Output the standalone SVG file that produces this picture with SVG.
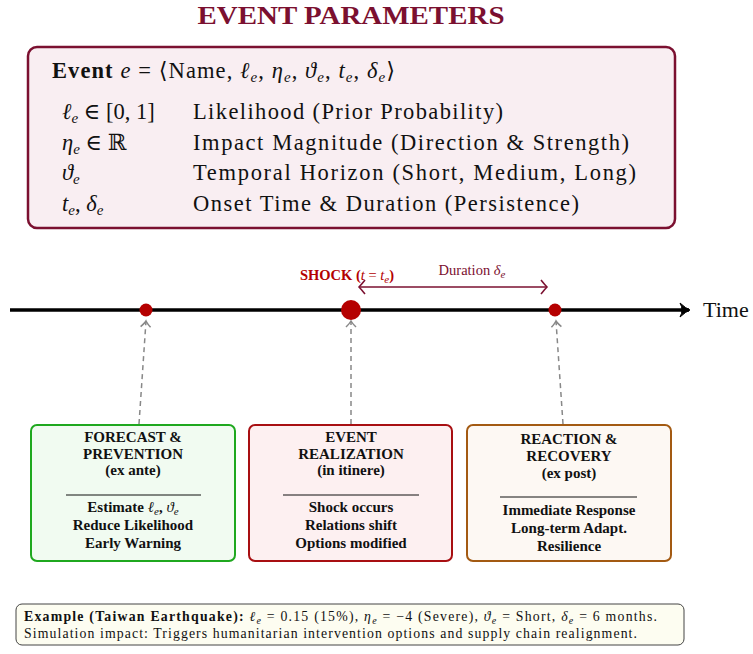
<svg xmlns="http://www.w3.org/2000/svg" width="753" height="654" viewBox="0 0 753 654">
<style>
text{font-family:"Liberation Serif","DejaVu Serif",serif;fill:#111}
.title{font-size:26px;font-weight:bold;fill:#7b1030}
.big{font-size:22.5px}
.i{font-style:italic}
.sub{font-size:15px;font-style:italic}
.bx{font-size:15px;font-weight:bold;text-anchor:middle}
.bs{font-size:11px;font-style:italic;font-weight:normal}
.sm{font-size:14.5px}
.ex{font-size:13.8px}
</style>
<defs>
<marker id="ah" markerUnits="userSpaceOnUse" markerWidth="16" markerHeight="16" refX="0" refY="0" viewBox="-10 -8 14 16" orient="auto" overflow="visible">
<path d="M-6,-5 Q-2,-1 0,0 Q-2,1 -6,5" fill="none" stroke="#888" stroke-width="1.5"/>
</marker>
<marker id="dh" markerUnits="userSpaceOnUse" markerWidth="16" markerHeight="16" refX="0" refY="0" viewBox="-10 -8 14 16" orient="auto-start-reverse" overflow="visible">
<path d="M-5,-7 Q-1,-2 1,0 Q-1,2 -5,7" fill="none" stroke="#7b1030" stroke-width="1.6"/>
</marker>
<marker id="th" markerUnits="userSpaceOnUse" markerWidth="20" markerHeight="20" refX="0" refY="0" viewBox="-12 -10 16 20" orient="auto" overflow="visible">
<path d="M-9,-7 Q-3,-1.5 1,0 Q-3,1.5 -9,7 Q-5,0 -9,-7 Z" fill="#000" stroke="#000" stroke-width="1"/>
</marker>
</defs>

<text class="title" x="351" y="24" text-anchor="middle" textLength="307" lengthAdjust="spacingAndGlyphs">EVENT PARAMETERS</text>

<g id="params">
<rect x="28" y="47" width="647" height="181" rx="9" fill="#f9eef2" stroke="#7b1030" stroke-width="2.5"/>
<text class="big" x="52" y="78" textLength="343"><tspan font-weight="bold">Event</tspan> <tspan class="i">e</tspan> = ⟨Name, <tspan class="i">ℓ</tspan><tspan class="sub" dy="4">e</tspan><tspan dy="-4">, </tspan><tspan class="i">η</tspan><tspan class="sub" dy="4">e</tspan><tspan dy="-4">, </tspan><tspan class="i">ϑ</tspan><tspan class="sub" dy="4">e</tspan><tspan dy="-4">, </tspan><tspan class="i">t</tspan><tspan class="sub" dy="4">e</tspan><tspan dy="-4">, </tspan><tspan class="i">δ</tspan><tspan class="sub" dy="4">e</tspan><tspan dy="-4">⟩</tspan></text>
<text class="big" x="62" y="119"><tspan class="i">ℓ</tspan><tspan class="sub" dy="4">e</tspan><tspan dy="-4"> ∈ [0, 1]</tspan></text>
<text class="big" x="62" y="150"><tspan class="i">η</tspan><tspan class="sub" dy="4">e</tspan><tspan dy="-4"> ∈ ℝ</tspan></text>
<text class="big" x="62" y="180"><tspan class="i">ϑ</tspan><tspan class="sub" dy="4">e</tspan></text>
<text class="big" x="62" y="211"><tspan class="i">t</tspan><tspan class="sub" dy="4">e</tspan><tspan dy="-4">, </tspan><tspan class="i">δ</tspan><tspan class="sub" dy="4">e</tspan></text>
<text class="big" x="193" y="119" textLength="310">Likelihood (Prior Probability)</text>
<text class="big" x="193" y="150" textLength="436">Impact Magnitude (Direction &amp; Strength)</text>
<text class="big" x="193" y="180" textLength="443">Temporal Horizon (Short, Medium, Long)</text>
<text class="big" x="193" y="211" textLength="386">Onset Time &amp; Duration (Persistence)</text>
</g>

<g id="timeline">
<line x1="10" y1="310" x2="689" y2="310" stroke="#000" stroke-width="3.5" marker-end="url(#th)"/>
<text x="703" y="317" style="font-size:22px">Time</text>
</g>

<g id="connectors">
<line x1="139" y1="424" x2="146" y2="321" stroke="#888" stroke-width="1.5" stroke-dasharray="5,4" marker-end="url(#ah)"/>
<line x1="351" y1="424" x2="351" y2="321" stroke="#888" stroke-width="1.5" stroke-dasharray="5,4" marker-end="url(#ah)"/>
<line x1="563" y1="424" x2="556" y2="321" stroke="#888" stroke-width="1.5" stroke-dasharray="5,4" marker-end="url(#ah)"/>
<line x1="360" y1="287" x2="546" y2="287" stroke="#7b1030" stroke-width="1.6" marker-start="url(#dh)" marker-end="url(#dh)"/>
</g>

<g id="dot-forecast"><circle cx="146" cy="310" r="6.5" fill="#b50000"/></g>
<g id="dot-shock"><circle cx="351" cy="310" r="10" fill="#b50000"/></g>
<g id="dot-recovery"><circle cx="555" cy="310" r="6.5" fill="#b50000"/></g>

<g id="shock-label">
<text class="sm" x="300" y="280" style="fill:#b30000"><tspan font-weight="bold">SHOCK (</tspan><tspan class="i">t</tspan> = <tspan class="i">t</tspan><tspan style="font-size:11px;font-style:italic" dy="3">e</tspan><tspan font-weight="bold" dy="-3">)</tspan></text>
</g>
<g id="duration-label">
<text class="sm" x="472" y="275" text-anchor="middle" style="fill:#7b1030">Duration <tspan class="i">δ</tspan><tspan style="font-size:11px;font-style:italic" dy="3">e</tspan></text>
</g>

<g id="forecast">
<rect x="31" y="425" width="204" height="136" rx="6" fill="#f1fbf1" stroke="#1fa81f" stroke-width="2"/>
<text class="bx" x="133" y="442">FORECAST &amp;</text>
<text class="bx" x="133" y="459">PREVENTION</text>
<text class="bx" x="133" y="475">(ex ante)</text>
<line x1="66" y1="495" x2="201" y2="495" stroke="#111" stroke-width="1"/>
<text class="bx" x="133" y="512">Estimate <tspan font-weight="normal" font-style="italic">ℓ</tspan><tspan class="bs" dy="3">e</tspan><tspan dy="-3">, </tspan><tspan font-weight="normal" font-style="italic">ϑ</tspan><tspan class="bs" dy="3">e</tspan></text>
<text class="bx" x="133" y="530">Reduce Likelihood</text>
<text class="bx" x="133" y="548">Early Warning</text>
</g>

<g id="realization">
<rect x="249" y="425" width="203" height="136" rx="6" fill="#fdf0f1" stroke="#a80f12" stroke-width="2"/>
<text class="bx" x="351" y="442">EVENT</text>
<text class="bx" x="351" y="459">REALIZATION</text>
<text class="bx" x="351" y="475">(in itinere)</text>
<line x1="283" y1="495" x2="419" y2="495" stroke="#111" stroke-width="1"/>
<text class="bx" x="351" y="512">Shock occurs</text>
<text class="bx" x="351" y="530">Relations shift</text>
<text class="bx" x="351" y="548">Options modified</text>
</g>

<g id="recovery">
<rect x="467" y="425" width="204" height="136" rx="6" fill="#fdf8f3" stroke="#a35a12" stroke-width="2"/>
<text class="bx" x="569" y="444">REACTION &amp;</text>
<text class="bx" x="569" y="461">RECOVERY</text>
<text class="bx" x="569" y="478">(ex post)</text>
<line x1="500" y1="497" x2="637" y2="497" stroke="#111" stroke-width="1"/>
<text class="bx" x="569" y="515">Immediate Response</text>
<text class="bx" x="569" y="533">Long-term Adapt.</text>
<text class="bx" x="569" y="551">Resilience</text>
</g>

<g id="example">
<rect x="16" y="604" width="668" height="41" rx="6" fill="#fdfdf1" stroke="#444" stroke-width="1"/>
<text class="ex" x="24" y="621" textLength="633"><tspan font-weight="bold">Example (Taiwan Earthquake):</tspan> <tspan class="i">ℓ</tspan><tspan style="font-size:10px;font-style:italic" dy="2.5">e</tspan><tspan dy="-2.5"> = 0.15 (15%), </tspan><tspan class="i">η</tspan><tspan style="font-size:10px;font-style:italic" dy="2.5">e</tspan><tspan dy="-2.5"> = −4 (Severe), </tspan><tspan class="i">ϑ</tspan><tspan style="font-size:10px;font-style:italic" dy="2.5">e</tspan><tspan dy="-2.5"> = Short, </tspan><tspan class="i">δ</tspan><tspan style="font-size:10px;font-style:italic" dy="2.5">e</tspan><tspan dy="-2.5"> = 6 months.</tspan></text>
<text class="ex" x="24" y="638" textLength="613">Simulation impact: Triggers humanitarian intervention options and supply chain realignment.</text>
</g>
</svg>
